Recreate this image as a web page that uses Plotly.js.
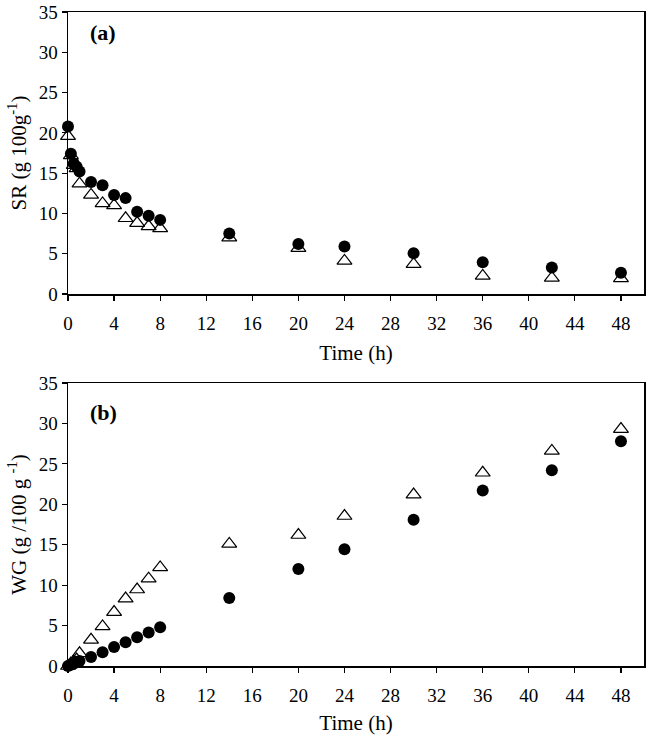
<!DOCTYPE html>
<html>
<head>
<meta charset="utf-8">
<script src="https://cdn.plot.ly/plotly-3.0.1.min.js"></script>
<style>
  html, body { margin: 0; padding: 0; background: #fff; }
  #chart { width: 646px; height: 735px; }
</style>
</head>
<body>
<div id="chart"></div>
<script>
// time points (h)
let time = [0, 0.25, 0.5, 0.75, 1, 2, 3, 4, 5, 6, 7, 8, 14, 20, 24, 30, 36, 42, 48]

// (a) solid removal
let srCircle = [20.8, 17.4, 16.2, 15.8, 15.2, 13.9, 13.5, 12.3, 11.9, 10.2, 9.7, 9.2, 7.5, 6.2, 5.9, 5.05, 3.95, 3.3, 2.65]
let srTriangle = [19.6, 17.2, 16.0, 15.6, 13.7, 12.3, 11.25, 11.0, 9.4, 8.8, 8.4, 8.15, 7.0, 5.7, 4.1, 3.7, 2.25, 2.0, 1.95]

// (b) water gain
let wgCircle = [0, 0.15, 0.3, 0.45, 0.62, 1.12, 1.7, 2.36, 2.94, 3.56, 4.15, 4.8, 8.4, 12.0, 14.45, 18.1, 21.7, 24.2, 27.8]
let wgTriangle = [0, 0.3, 0.55, 0.8, 1.57, 3.24, 4.9, 6.67, 8.34, 9.46, 10.8, 12.2, 15.1, 16.2, 18.55, 21.2, 23.9, 26.6, 29.3]

let xTicks = [0, 4, 8, 12, 16, 20, 24, 28, 32, 36, 40, 44, 48]
let yTicks = [0, 5, 10, 15, 20, 25, 30, 35]

let fontFam = '"Liberation Serif", "Times New Roman", serif'

function circleTrace(y, xa, ya) {
    return {
        x: time, y: y, xaxis: xa, yaxis: ya,
        mode: 'markers', type: 'scatter', cliponaxis: false,
        marker: { symbol: 'circle', size: 12, color: '#000' }
    }
}

function triangleTrace(y, xa, ya) {
    return {
        x: time, y: y, xaxis: xa, yaxis: ya,
        mode: 'markers', type: 'scatter', cliponaxis: false,
        marker: { symbol: 'triangle-up-open', size: 13, color: '#000', line: { width: 1.2, color: '#000' } }
    }
}

function xAxis(anchor) {
    return {
        anchor: anchor, range: [0, 50], tickvals: xTicks,
        ticks: 'outside', ticklen: 5, tickwidth: 1.2, tickcolor: '#000',
        ticklabelstandoff: 7,
        showline: true, linecolor: '#000', linewidth: 1.5, mirror: true,
        showgrid: false, zeroline: false,
        tickfont: { family: fontFam, size: 19, color: '#000' },
        title: { text: 'Time (h)', font: { family: fontFam, size: 21, color: '#000' }, standoff: 12 }
    }
}

function yAxis(anchor, domain, title) {
    return {
        anchor: anchor, domain: domain, range: [0, 35], tickvals: yTicks,
        ticks: 'outside', ticklen: 5, tickwidth: 1.2, tickcolor: '#000',
        ticklabelstandoff: 0,
        showline: true, linecolor: '#000', linewidth: 1.5, mirror: true,
        showgrid: false, zeroline: false,
        tickfont: { family: fontFam, size: 19, color: '#000' },
        title: { text: title, font: { family: fontFam, size: 21, color: '#000' }, standoff: 6 }
    }
}

let traces = [
    triangleTrace(srTriangle, 'x', 'y'),
    circleTrace(srCircle, 'x', 'y'),
    triangleTrace(wgTriangle, 'x2', 'y2'),
    circleTrace(wgCircle, 'x2', 'y2')
]

let layout = {
    width: 646, height: 735,
    margin: { l: 68, r: 2, t: 12, b: 69 },
    paper_bgcolor: '#fff', plot_bgcolor: '#fff',
    showlegend: false,
    font: { family: fontFam, color: '#000' },
    xaxis: xAxis('y'),
    yaxis: yAxis('x', [0.5688, 1], 'SR (g 100g<sup>-1</sup>)'),
    xaxis2: xAxis('y2'),
    yaxis2: yAxis('x2', [0, 0.4327], 'WG (g /100 g <sup>-1</sup>)'),
    annotations: [
        { text: '<b>(a)</b>', xref: 'x', yref: 'y', x: 1.7, y: 32.4, xanchor: 'left', yanchor: 'middle',
          showarrow: false, font: { family: fontFam, size: 22, color: '#000' } },
        { text: '<b>(b)</b>', xref: 'x2', yref: 'y2', x: 1.7, y: 31.3, xanchor: 'left', yanchor: 'middle',
          showarrow: false, font: { family: fontFam, size: 22, color: '#000' } }
    ]
}

Plotly.newPlot(document.getElementById('chart'), traces, layout, { staticPlot: true })
</script>
</body>
</html>
